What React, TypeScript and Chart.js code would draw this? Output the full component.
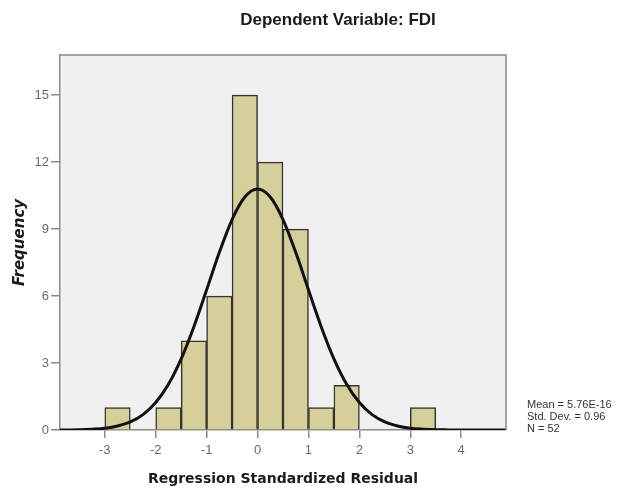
import React, { useEffect, useRef } from "react";
import { Chart, registerables } from "chart.js";

Chart.register(...registerables);

// Histogram bins (bin centres, width 0.5) and frequencies
const binCenters = [-2.75, -1.75, -1.25, -0.75, -0.25, 0.25, 0.75, 1.25, 1.75, 3.25];
const frequencies = [1, 1, 4, 6, 15, 12, 9, 1, 2, 1];

// Normal curve
const curveX = [-3.88, -3.5, -3.25, -3, -2.75, -2.5, -2.25, -2, -1.75, -1.5, -1.25, -1, -0.75, -0.5, -0.25, 0,
  0.25, 0.5, 0.75, 1, 1.25, 1.5, 1.75, 2, 2.25, 2.5, 2.75, 3, 3.25, 3.5, 3.75, 4, 4.5, 4.88];
const curveY = [0, 0.01, 0.035, 0.08, 0.18, 0.36, 0.69, 1.23, 2.05, 3.19, 4.63, 6.28, 7.96, 9.43, 10.44, 10.8,
  10.44, 9.43, 7.96, 6.28, 4.63, 3.19, 2.05, 1.23, 0.69, 0.36, 0.18, 0.08, 0.035, 0.01, 0.005, 0, 0, 0];

const yTicks = [0, 3, 6, 9, 12, 15];
const xTicks = [-3, -2, -1, 0, 1, 2, 3, 4];

const titleText = "Dependent Variable: FDI";
const xTitle = "Regression Standardized Residual";
const yTitle = "Frequency";
const statsLines = ["Mean = 5.76E-16", "Std. Dev. = 0.96", "N = 52"];

const decorPlugin = {
  id: "decor",
  beforeDraw(chart: any) {
    const { ctx, chartArea } = chart;
    ctx.save();
    ctx.fillStyle = "#f0f0f0";
    ctx.fillRect(chartArea.left, chartArea.top, chartArea.right - chartArea.left, chartArea.bottom - chartArea.top);
    ctx.restore();
  },
  afterDraw(chart: any) {
    const { ctx, chartArea } = chart;
    ctx.save();
    ctx.strokeStyle = "#8a8a8a";
    ctx.lineWidth = 1.5;
    ctx.beginPath();
    ctx.moveTo(chartArea.left, chartArea.top);
    ctx.lineTo(chartArea.right, chartArea.top);
    ctx.lineTo(chartArea.right, chartArea.bottom);
    ctx.stroke();
    // title
    ctx.fillStyle = "#1a1a1a";
    ctx.font = "bold 17px 'Liberation Sans', Arial, sans-serif";
    ctx.textAlign = "center";
    ctx.textBaseline = "middle";
    ctx.fillText(titleText, 338, 20);
    // stats
    ctx.fillStyle = "#333";
    ctx.font = "11px 'Liberation Sans', Arial, sans-serif";
    ctx.textAlign = "left";
    statsLines.forEach((s, i) => ctx.fillText(s, 527, 405 + i * 12));
    ctx.restore();
  },
};

export default function App() {
  const ref = useRef<HTMLCanvasElement>(null);
  useEffect(() => {
    if (!ref.current) return;
    const chart = new Chart(ref.current, {
      type: "bar",
      data: {
        datasets: [
          {
            type: "line",
            data: curveX.map((x, i) => ({ x, y: curveY[i] })),
            borderColor: "#111",
            borderWidth: 3,
            pointRadius: 0,
            cubicInterpolationMode: "monotone",
            fill: false,
            order: 0,
          } as any,
          {
            type: "bar",
            data: binCenters.map((x, i) => ({ x, y: frequencies[i] })),
            backgroundColor: "#d6cf9c",
            borderColor: "#35342a",
            borderWidth: 1.5,
            barPercentage: 1,
            categoryPercentage: 1,
            grouped: false,
            order: 1,
          } as any,
        ],
      },
      options: {
        responsive: false,
        animation: false,
        layout: { padding: { top: 55, right: 111, left: 0, bottom: 0 } },
        plugins: { legend: { display: false }, tooltip: { enabled: false }, title: { display: false } },
        scales: {
          x: {
            type: "linear",
            offset: false,
            min: -3.88,
            max: 4.88,
            afterBuildTicks: (s: any) => { s.ticks = xTicks.map((v) => ({ value: v })); },
            afterFit: (s: any) => { s.height = 61; },
            ticks: { color: "#6a6a6a", font: { family: "'Liberation Sans', Arial, sans-serif", size: 13 }, padding: 5, maxRotation: 0 },
            grid: { offset: false, drawOnChartArea: false, drawTicks: true, tickLength: 8, color: "#8a8a8a", lineWidth: 1.5 },
            border: { display: true, color: "#8a8a8a", width: 1.5 },
            title: {
              display: true,
              text: xTitle,
              color: "#1a1a1a",
              font: { family: "'DejaVu Sans', Verdana, sans-serif", size: 14, weight: "bold" },
              padding: { top: 0, bottom: 3 },
            },
          },
          y: {
            min: 0,
            max: 16.8,
            afterBuildTicks: (s: any) => { s.ticks = yTicks.map((v) => ({ value: v })); },
            afterFit: (s: any) => { s.width = 60; },
            ticks: { color: "#6a6a6a", font: { family: "'Liberation Sans', Arial, sans-serif", size: 13 }, padding: 2 },
            grid: { drawOnChartArea: false, drawTicks: true, tickLength: 9, color: "#8a8a8a", lineWidth: 1.5 },
            border: { display: true, color: "#8a8a8a", width: 1.5 },
            title: {
              display: true,
              text: yTitle,
              color: "#1a1a1a",
              font: { family: "'DejaVu Sans', Verdana, sans-serif", size: 15, weight: "bold", style: "italic" },
              padding: { top: 11, bottom: 0 },
            },
          },
        },
      } as any,
      plugins: [decorPlugin],
    });
    return () => chart.destroy();
  }, []);
  return (
    <div style={{ position: "absolute", left: 0, top: 0, width: 617, height: 491, background: "#fff" }}>
      <canvas ref={ref} width={617} height={491} style={{ display: "block" }} />
    </div>
  );
}
